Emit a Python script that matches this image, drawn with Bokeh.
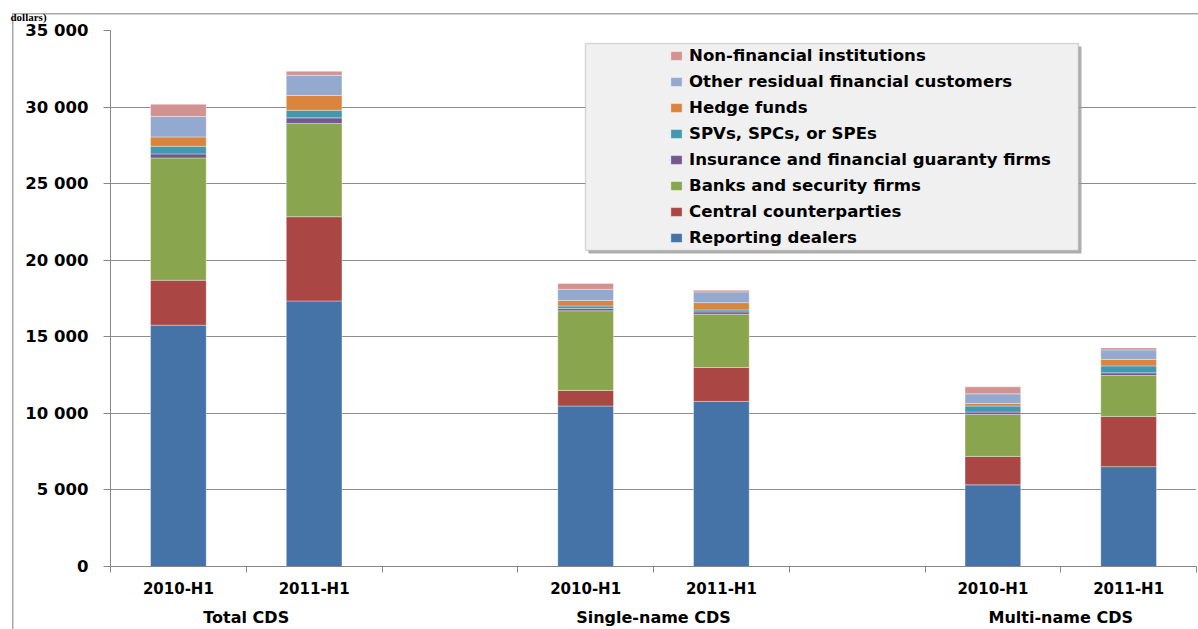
from bokeh.plotting import figure
from bokeh.models import (FactorRange, Range1d, LinearAxis, CategoricalAxis, FixedTicker,
                          Legend, LegendItem, BoxAnnotation, ColumnDataSource)
from bokeh.embed import file_html
from bokeh.resources import INLINE

# ---------------- data ----------------
groups = ["Total CDS", "Single-name CDS", "Multi-name CDS"]
periods = ["2010-H1", "2011-H1"]

# bar order: Total 2010, Total 2011, Single 2010, Single 2011, Multi 2010, Multi 2011
reporting_dealers = [15760, 17340, 10480, 10780, 5330, 6520]
central_counterparties = [2930, 5500, 1020, 2215, 1860, 3280]
banks_security_firms = [7990, 6090, 5200, 3480, 2740, 2670]
insurance_guaranty = [260, 365, 150, 150, 155, 175]
spvs_spcs_spes = [500, 500, 160, 130, 390, 455]
hedge_funds = [610, 960, 365, 475, 170, 425]
other_residual = [1330, 1320, 720, 700, 630, 620]
non_financial = [800, 260, 390, 110, 455, 130]

series_labels = ["Reporting dealers", "Central counterparties", "Banks and security firms",
                 "Insurance and financial guaranty firms", "SPVs, SPCs, or SPEs", "Hedge funds",
                 "Other residual financial customers", "Non-financial institutions"]
series_values = [reporting_dealers, central_counterparties, banks_security_firms,
                 insurance_guaranty, spvs_spcs_spes, hedge_funds, other_residual, non_financial]
series_colors = ["#4572A7", "#AA4643", "#89A54E", "#71588F", "#4198AF", "#DB843D",
                 "#93A9CF", "#D19392"]

y_ticks = [0, 5000, 10000, 15000, 20000, 25000, 30000, 35000]
y_tick_labels = ["0", "5 000", "10 000", "15 000", "20 000", "25 000", "30 000", "35 000"]

title_fragment = "dollars)"

# ---------------- figure ----------------
factors = [(g, per) for g in groups for per in periods]
keys = ["s%d" % i for i in range(len(series_labels))]
data = {"x": factors}
for k, v in zip(keys, series_values):
    data[k] = v
source = ColumnDataSource(data=data)

x_range = FactorRange(*factors, group_padding=1.0, range_padding=0)
p = figure(x_range=x_range, y_range=Range1d(0, 35000), width=1198, height=629,
           output_backend="svg", toolbar_location=None,
           x_axis_location=None, y_axis_location=None,
           min_border_left=110, min_border_right=2, min_border_top=30, min_border_bottom=63)
p.outline_line_color = None
p.background_fill_color = "white"
p.border_fill_alpha = 0
# outer chart frame: thin grey lines at the top-left, drawn behind the transparent border area
FRAME_C = "#a8a8a8"
p.styles = {
    "background": ("linear-gradient(%s,%s) 12px 13px / 1.5px 700px no-repeat, "
                   "linear-gradient(%s,%s) 12px 13px / 1300px 1.5px no-repeat, white")
                  % (FRAME_C, FRAME_C, FRAME_C, FRAME_C)
}

AX_COLOR = "#868686"
FONT = "DejaVu Sans"

# title fragment (top-left)
p.title.text = title_fragment
p.title.align = "left"
p.title.offset = -100
p.title.standoff = 15
p.title.text_font = "Liberation Serif"
p.title.text_font_style = "bold"
p.title.text_font_size = "11px"
p.title.text_color = "black"

# grid
p.xgrid.visible = False
p.ygrid.ticker = FixedTicker(ticks=y_ticks)
p.ygrid.grid_line_color = "#8c8c8c"
p.ygrid.grid_line_width = 1

# y axis
yaxis = LinearAxis(ticker=FixedTicker(ticks=y_ticks),
                   major_label_overrides={t: l for t, l in zip(y_ticks, y_tick_labels)})
yaxis.axis_line_color = AX_COLOR
yaxis.major_tick_line_color = AX_COLOR
yaxis.major_tick_out = 7
yaxis.major_tick_in = 0
yaxis.minor_tick_line_color = None
yaxis.major_label_standoff = 15
yaxis.major_label_text_font = FONT
yaxis.major_label_text_font_style = "bold"
yaxis.major_label_text_font_size = "16.5px"
yaxis.major_label_text_color = "black"
p.add_layout(yaxis, "left")

# x axis: tick marks at slot boundaries (synthetic coordinates of the factor range)
n_slots = len(factors) + len(groups) - 1
boundaries = list(range(n_slots + 1))
tick_axis = LinearAxis(ticker=FixedTicker(ticks=boundaries),
                       major_label_overrides={b: "" for b in boundaries})
tick_axis.axis_line_color = AX_COLOR
tick_axis.major_tick_line_color = AX_COLOR
tick_axis.major_tick_out = 6
tick_axis.major_tick_in = 0
tick_axis.minor_tick_line_color = None
tick_axis.major_label_text_font_size = "0px"
tick_axis.major_label_standoff = 0
p.add_layout(tick_axis, "below")

cat_axis = CategoricalAxis()
cat_axis.axis_line_color = None
cat_axis.major_tick_line_color = None
cat_axis.major_tick_out = 0
cat_axis.major_tick_in = 0
cat_axis.major_label_standoff = 7
cat_axis.major_label_text_font = FONT
cat_axis.major_label_text_font_style = "bold"
cat_axis.major_label_text_font_size = "15px"
cat_axis.major_label_text_color = "black"
cat_axis.group_text_font = FONT
cat_axis.group_text_font_style = "bold"
cat_axis.group_text_font_size = "16px"
cat_axis.group_text_color = "black"
cat_axis.separator_line_color = None
p.add_layout(cat_axis, "below")

# bars
renderers = p.vbar_stack(keys, x="x", width=0.41, source=source,
                         fill_color=series_colors, line_color="white",
                         line_alpha=0.35, line_width=1)

# legend box + shadow
shadow = BoxAnnotation(left=478, right=971, top=520, bottom=313,
                       left_units="screen", right_units="screen",
                       top_units="screen", bottom_units="screen",
                       fill_color="#9a9a9a", fill_alpha=0.8, line_color=None)
p.add_layout(shadow, "center")
legend_box = BoxAnnotation(left=475, right=968, top=523, bottom=316,
                           left_units="screen", right_units="screen",
                           top_units="screen", bottom_units="screen",
                           fill_color="#F0F0F0", fill_alpha=1.0,
                           line_color="#8c8c8c", line_width=1.5)
p.add_layout(legend_box, "center")

items = [LegendItem(label=lab, renderers=[r]) for lab, r in zip(series_labels, renderers)]
items.reverse()
legend = Legend(items=items, location=(559, 319))
legend.background_fill_alpha = 0
legend.border_line_color = None
legend.padding = 0
legend.margin = 0
legend.spacing = 6
legend.glyph_width = 14
legend.glyph_height = 11
legend.label_height = 20
legend.label_standoff = 6
legend.label_text_font = FONT
legend.label_text_font_style = "bold"
legend.label_text_font_size = "16.6px"
legend.label_text_color = "black"
legend.label_text_baseline = "middle"
p.add_layout(legend, "center")

open("out.html", "w").write(file_html(p, INLINE))
